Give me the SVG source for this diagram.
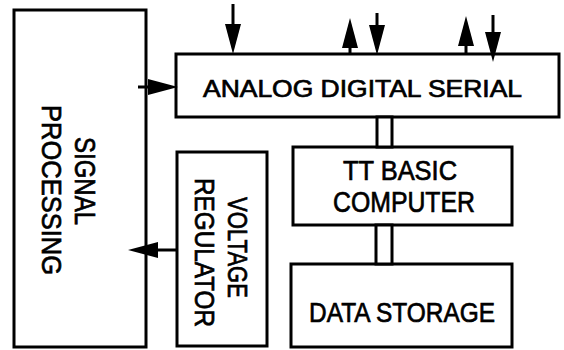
<svg xmlns="http://www.w3.org/2000/svg" xmlns:xlink="http://www.w3.org/1999/xlink" width="564" height="350" viewBox="0 0 564 350">
<style>
.box{fill:#fff;stroke:#000;stroke-width:3}
.ln{fill:none;stroke:#000;stroke-width:3}
.t{font-family:"Liberation Sans",Arial,sans-serif;fill:#000;stroke:#000;stroke-width:0.7;text-anchor:middle}
</style>
<defs>
<path id="ah" d="M0,0 L-8,-30 L8,-30 z" fill="#000"/>
</defs>
<rect width="564" height="350" fill="#fff"/>
<g id="signal-processing">
<rect class="box" x="14" y="10" width="132" height="337"/>
<text class="t" font-size="29" transform="translate(75,181) rotate(90)" textLength="88" lengthAdjust="spacingAndGlyphs">SIGNAL</text>
<text class="t" font-size="28" transform="translate(42,190) rotate(90)" textLength="170" lengthAdjust="spacingAndGlyphs">PROCESSING</text>
</g>
<g id="analog-digital-serial">
<rect class="box" x="176" y="54" width="383" height="63"/>
<text class="t" x="362.5" y="97" font-size="24" textLength="319" lengthAdjust="spacingAndGlyphs">ANALOG DIGITAL SERIAL</text>
</g>
<g id="voltage-regulator">
<rect class="box" x="177" y="152" width="90" height="194"/>
<text class="t" font-size="28" transform="translate(228,247.5) rotate(90)" textLength="101" lengthAdjust="spacingAndGlyphs">VOLTAGE</text>
<text class="t" font-size="27" transform="translate(195,252.5) rotate(90)" textLength="149" lengthAdjust="spacingAndGlyphs">REGULATOR</text>
</g>
<g id="tt-basic-computer">
<rect class="box" x="293" y="147" width="219" height="78"/>
<text class="t" x="400" y="180" font-size="28" textLength="114" lengthAdjust="spacingAndGlyphs">TT BASIC</text>
<text class="t" x="404" y="212" font-size="29" textLength="142" lengthAdjust="spacingAndGlyphs">COMPUTER</text>
</g>
<g id="data-storage">
<rect class="box" x="291" y="264" width="221" height="83"/>
<text class="t" x="402" y="322" font-size="28" textLength="186" lengthAdjust="spacingAndGlyphs">DATA STORAGE</text>
</g>
<g id="connectors">
<rect class="box" x="377" y="117" width="15" height="30"/>
<rect class="box" x="376" y="225" width="16" height="39"/>
<line class="ln" x1="233" y1="4" x2="233" y2="40"/>
<use xlink:href="#ah" href="#ah" transform="translate(233,54)"/>
<line class="ln" x1="350" y1="54" x2="350" y2="40"/>
<use xlink:href="#ah" href="#ah" transform="translate(350,18) rotate(180)"/>
<line class="ln" x1="377" y1="13" x2="377" y2="40"/>
<use xlink:href="#ah" href="#ah" transform="translate(377,55)"/>
<line class="ln" x1="466" y1="54" x2="466" y2="40"/>
<use xlink:href="#ah" href="#ah" transform="translate(466,16) rotate(180)"/>
<line class="ln" x1="493" y1="15" x2="493" y2="45"/>
<use xlink:href="#ah" href="#ah" transform="translate(493,62)"/>
<line class="ln" x1="138" y1="87" x2="165" y2="87"/>
<use xlink:href="#ah" href="#ah" transform="translate(178,87) rotate(-90)"/>
<line class="ln" x1="177" y1="250" x2="145" y2="250"/>
<use xlink:href="#ah" href="#ah" transform="translate(128,250) rotate(90)"/>
</g>
</svg>
